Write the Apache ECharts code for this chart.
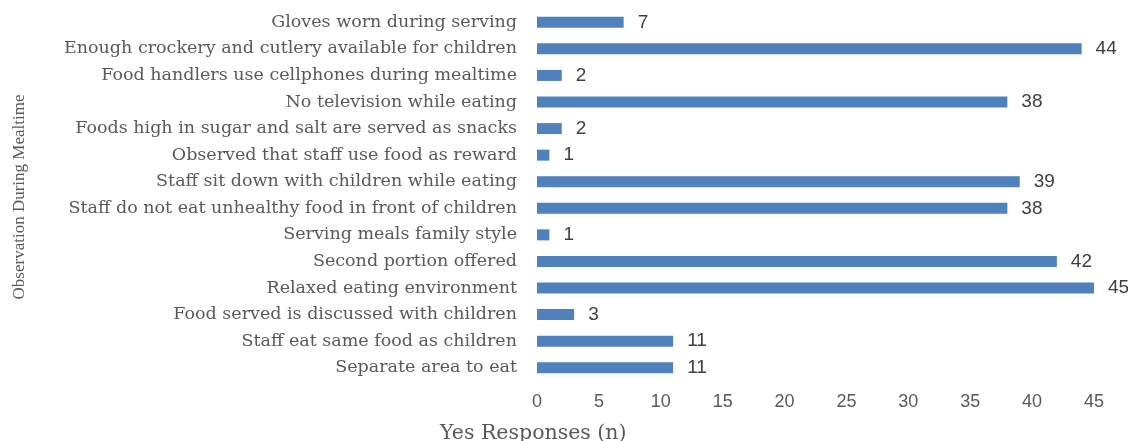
<!DOCTYPE html>
<html>
<head>
<meta charset="utf-8">
<script src="https://cdn.jsdelivr.net/npm/echarts@6/dist/echarts.min.js"></script>
<style>html,body{margin:0;padding:0;background:#fff;}#c{width:1128px;height:441px;}</style>
</head>
<body>
<div id="c"></div>
<script>
var categories = [
  "Gloves worn during serving",
  "Enough crockery and cutlery available for children",
  "Food handlers use cellphones during mealtime",
  "No television while eating",
  "Foods high in sugar and salt are served as snacks",
  "Observed that staff use food as reward",
  "Staff sit down with children while eating",
  "Staff do not eat unhealthy food in front of children",
  "Serving meals family style",
  "Second portion offered",
  "Relaxed eating environment",
  "Food served is discussed with children",
  "Staff eat same food as children",
  "Separate area to eat"
];
var values = [7, 44, 2, 38, 2, 1, 39, 38, 1, 42, 45, 3, 11, 11];
var xTicks = {min: 0, max: 45, interval: 5};
var yTitle = "Observation During Mealtime";
var xTitle = "Yes Responses (n)";

var chart = echarts.init(document.getElementById('c'));
chart.setOption({
  animation: false,
  backgroundColor: '#ffffff',
  grid: {left: 537, right: 34, top: 9, bottom: 60, containLabel: false},
  xAxis: {
    type: 'value', min: xTicks.min, max: xTicks.max, interval: xTicks.interval,
    axisLine: {show: false}, axisTick: {show: false}, splitLine: {show: false},
    axisLabel: {color: '#595959', fontFamily: 'Liberation Sans', fontSize: 18, margin: 12}
  },
  yAxis: {
    type: 'category', data: categories, inverse: true,
    axisLine: {show: false}, axisTick: {show: false},
    axisLabel: {color: '#595959', fontFamily: 'DejaVu Serif', fontSize: 17.5, margin: 20}
  },
  series: [{
    type: 'bar', data: values, barWidth: 11,
    itemStyle: {color: '#4F81BD'},
    label: {show: true, position: 'right', distance: 14, color: '#404040', fontFamily: 'Liberation Sans', fontSize: 19}
  }],
  graphic: [
    {type: 'text', left: 440, top: 423, style: {text: xTitle, font: '20.5px "DejaVu Serif"', fill: '#595959'}},
    {type: 'text', x: 20, y: 197, rotation: Math.PI / 2, style: {text: yTitle, font: '17px "Liberation Serif"', fill: '#595959', align: 'center', verticalAlign: 'middle'}}
  ]
});
</script>
</body>
</html>
